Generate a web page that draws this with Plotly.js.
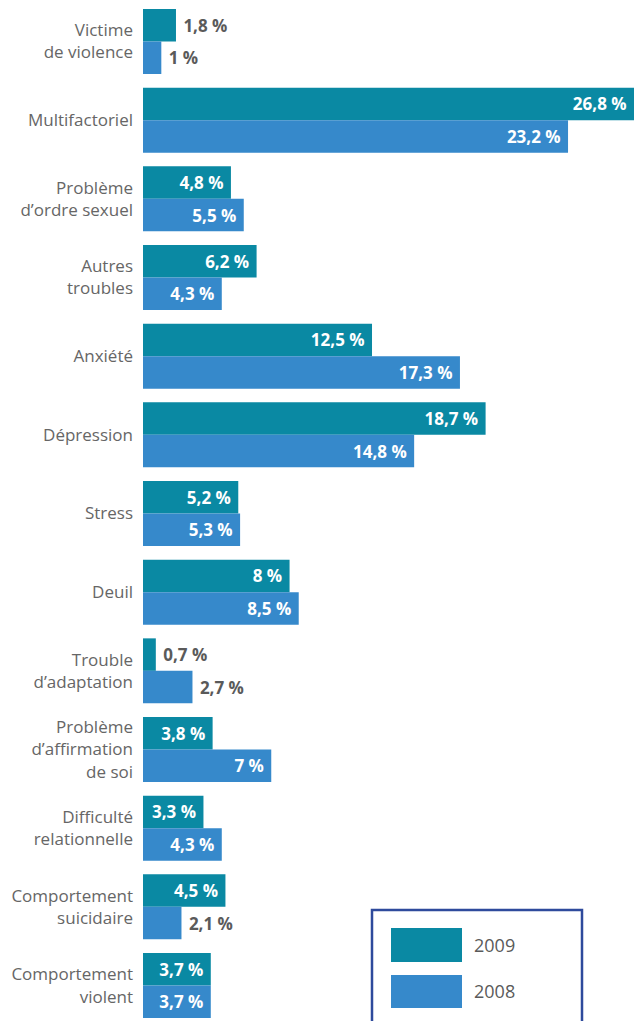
<!DOCTYPE html>
<html>
<head>
<meta charset="utf-8">
<script src="https://cdn.plot.ly/plotly-3.0.1.min.js"></script>
<style>html,body{margin:0;padding:0;background:#fff;}#chart{width:634px;height:1021px;}</style>
</head>
<body>
<div id="chart"></div>
<script>
const categories = ["Victime<br>de violence","Multifactoriel","Problème<br>d’ordre sexuel","Autres<br>troubles","Anxiété","Dépression","Stress","Deuil","Trouble<br>d’adaptation","Problème<br>d’affirmation<br>de soi","Difficulté<br>relationnelle","Comportement<br>suicidaire","Comportement<br>violent"];
const values2009 = [1.8,26.8,4.8,6.2,12.5,18.7,5.2,8,0.7,3.8,3.3,4.5,3.7];
const values2008 = [1,23.2,5.5,4.3,17.3,14.8,5.3,8.5,2.7,7,4.3,2.1,3.7];
const seriesNames = ["2009","2008"];
const seriesColors = ["#0a89a3","#3689cb"];

const FONT = "Open Sans, sans-serif";
const NB = '\u00a0';
const fmt = v => String(v).replace('.', ',') + NB + '%';
const inside = v => v >= 3;
function mkTrace(vals, name, color){
  return {
    type:'bar', orientation:'h', name:name, y:categories, x:vals,
    marker:{color:color, line:{width:0}},
    text: vals.map(v => inside(v) ? fmt(v) + NB : NB + fmt(v)),
    textposition: vals.map(v => inside(v) ? 'inside' : 'outside'),
    insidetextanchor:'end',
    textfont:{family:FONT, size:17, weight:'bold', color: vals.map(v => inside(v) ? '#ffffff' : '#5a5a5a')},
    constraintext:'none', cliponaxis:false, hoverinfo:'skip', showlegend:false
  };
}
const data = [mkTrace(values2009, seriesNames[0], seriesColors[0]), mkTrace(values2008, seriesNames[1], seriesColors[1])];

const X0 = 143, W = 491, H = 1021;
const px = x => (x - X0)/W;
const py = y => 1 - y/H;
const shapes = [
  {type:'rect', xref:'paper', yref:'paper', x0:px(372), x1:px(582), y0:py(1040), y1:py(910), line:{color:'#2e4a9c', width:2.5}, fillcolor:'rgba(0,0,0,0)'},
  {type:'rect', xref:'paper', yref:'paper', x0:px(391), x1:px(462), y0:py(962), y1:py(928), line:{width:0}, fillcolor:seriesColors[0]},
  {type:'rect', xref:'paper', yref:'paper', x0:px(391), x1:px(462), y0:py(1008), y1:py(975), line:{width:0}, fillcolor:seriesColors[1]}
];
const annotations = [
  {xref:'paper', yref:'paper', x:px(472), y:py(945), xanchor:'left', yanchor:'middle', text:seriesNames[0], showarrow:false, font:{family:FONT, size:18, color:'#5a5a5a'}},
  {xref:'paper', yref:'paper', x:px(472), y:py(991), xanchor:'left', yanchor:'middle', text:seriesNames[1], showarrow:false, font:{family:FONT, size:18, color:'#5a5a5a'}}
];

const layout = {
  width:634, height:1021,
  margin:{l:143, r:0, t:0, b:0, pad:0},
  paper_bgcolor:'#fff', plot_bgcolor:'#fff',
  barmode:'group', bargap:0.174, bargroupgap:0,
  font:{family:FONT, color:'#666666', size:17},
  xaxis:{range:[0,26.8], showgrid:false, zeroline:false, showticklabels:false, showline:false, ticks:''},
  yaxis:{type:'category', categoryorder:'array', categoryarray:categories, range:[12.451,-0.5275],
         showgrid:false, zeroline:false, showline:false, ticks:'', ticklabelstandoff:9,
         tickfont:{family:FONT, size:17, color:'#666666'}},
  shapes:shapes, annotations:annotations,
  uniformtext:{mode:false}
};
Plotly.newPlot('chart', data, layout, {staticPlot:true, displayModeBar:false});
</script>
</body>
</html>
